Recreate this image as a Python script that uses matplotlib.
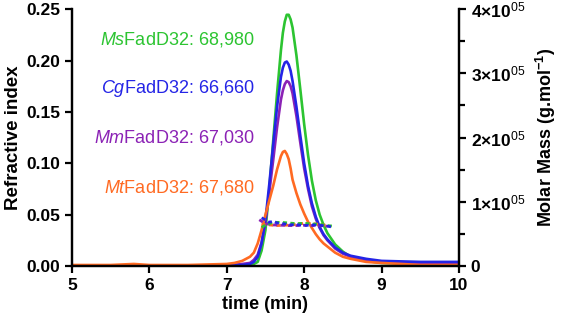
import matplotlib
matplotlib.use('Agg')
import matplotlib.pyplot as plt
from matplotlib.ticker import MultipleLocator, FixedLocator

plt.rcParams['font.family'] = ['Liberation Sans', 'DejaVu Sans']
plt.rcParams['mathtext.fontset'] = 'custom'
plt.rcParams['mathtext.rm'] = 'Liberation Sans'
plt.rcParams['mathtext.it'] = 'Liberation Sans:italic'
plt.rcParams['mathtext.bf'] = 'Liberation Sans:bold'

# refractive index traces (time in min)
time = [5.0, 5.5, 5.8, 6.0, 6.5, 7.0, 7.1, 7.2, 7.3, 7.35, 7.4, 7.45, 7.5, 7.55,
        7.6, 7.65, 7.7, 7.725, 7.75, 7.775, 7.8, 7.825, 7.85, 7.9, 7.95, 8.0,
        8.05, 8.1, 8.15, 8.2, 8.25, 8.3, 8.4, 8.5, 8.6, 8.8, 9.0, 9.5, 10.0]
ri_ms = [0.0, 0.0, 0.0, 0.0, 0.0, 0.001, 0.001, 0.001, 0.001, 0.002, 0.004, 0.015,
         0.035, 0.075, 0.122, 0.168, 0.210, 0.227, 0.238, 0.2445, 0.2445, 0.240,
         0.232, 0.205, 0.172, 0.138, 0.108, 0.083, 0.064, 0.050, 0.040, 0.032,
         0.021, 0.014, 0.009, 0.005, 0.003, 0.002, 0.001]
ri_cg = [0.0, 0.0, 0.0, 0.0, 0.0, 0.001, 0.001, 0.001, 0.002, 0.004, 0.009, 0.022,
         0.045, 0.080, 0.118, 0.155, 0.184, 0.193, 0.198, 0.199, 0.196, 0.190,
         0.180, 0.155, 0.127, 0.100, 0.078, 0.061, 0.048, 0.038, 0.031, 0.026,
         0.018, 0.013, 0.010, 0.007, 0.005, 0.004, 0.004]
ri_mm = [0.0, 0.0, 0.001, 0.0, 0.0, 0.001, 0.001, 0.002, 0.003, 0.006, 0.011, 0.023,
         0.043, 0.072, 0.103, 0.135, 0.162, 0.171, 0.177, 0.180, 0.179, 0.175,
         0.168, 0.146, 0.120, 0.095, 0.075, 0.058, 0.046, 0.037, 0.030, 0.025,
         0.017, 0.012, 0.009, 0.006, 0.004, 0.003, 0.003]
ri_mt = [0.001, 0.001, 0.002, 0.001, 0.001, 0.002, 0.003, 0.005, 0.009, 0.013, 0.022,
         0.035, 0.050, 0.064, 0.078, 0.094, 0.107, 0.111, 0.112, 0.109, 0.104,
         0.095, 0.084, 0.071, 0.060, 0.051, 0.043, 0.037, 0.031, 0.026, 0.022,
         0.019, 0.013, 0.009, 0.007, 0.004, 0.003, 0.001, 0.001]

# molar mass traces (right axis)
mm_time_cg = [7.45, 7.5, 7.55, 7.6, 7.65, 7.7, 7.75, 7.8, 7.9, 8.0, 8.1, 8.2, 8.3, 8.35]
mm_cg = [75000, 72000, 68000, 70000, 67000, 66000, 65500, 64000, 64500, 63000,
         64000, 63500, 62000, 61000]
mm_time_ms = [7.45, 7.5, 7.6, 7.7, 7.8, 7.9, 8.0, 8.1, 8.2, 8.3, 8.38]
mm_ms = [60000, 64000, 68000, 68000, 67000, 66000, 66500, 65500, 65000, 63000, 62000]
mm_time_mt = [7.45, 7.55, 7.65, 7.75, 7.85, 7.95, 8.05, 8.15, 8.25, 8.3]
mm_mt = [65000, 64000, 63000, 63500, 64000, 66000, 66500, 65500, 64000, 63000]
mm_time_mm = [7.42, 7.5, 7.6, 7.7, 7.8, 7.9, 8.0, 8.1, 8.2, 8.3]
mm_mm = [72000, 66000, 64000, 63500, 63000, 63000, 63500, 63000, 62500, 62000]

labels = [r'$\it{Ms}$FadD32: 68,980', r'$\it{Cg}$FadD32: 66,660',
          r'$\it{Mm}$FadD32: 67,030', r'$\it{Mt}$FadD32: 67,680']
label_y = [0.220, 0.173, 0.1255, 0.076]

c_ms = '#2cc431'
c_cg = '#2424e6'
c_mm = '#8b22b5'
c_mt = '#ff6a22'
colors = [c_ms, c_cg, c_mm, c_mt]

fig = plt.figure(figsize=(5.66, 3.26), dpi=100)
ax = fig.add_axes([0.127, 0.184, 0.684, 0.788])
ax2 = ax.twinx()

ax.plot(time, ri_ms, color=c_ms, lw=1.9)
ax.plot(time, ri_mm, color=c_mm, lw=1.9)
ax.plot(time, ri_cg, color=c_cg, lw=1.9)
ax.plot(time, ri_mt, color=c_mt, lw=1.9)

ax2.plot(mm_time_mt, mm_mt, color=c_mt, lw=2, ls=(0, (1.5, 1.2)))
ax2.plot(mm_time_mm, mm_mm, color=c_mm, lw=2, ls=(0, (1.5, 1.2)))
ax2.plot(mm_time_ms, mm_ms, color=c_ms, lw=2, ls=(0, (1.5, 1.2)))
ax2.plot(mm_time_cg, mm_cg, color=c_cg, lw=2, ls=(0, (1.5, 1.2)))

for txt, yy, cc in zip(labels, label_y, colors):
    ax.text(7.36, yy, txt, color=cc, fontsize=13, ha='right', va='center')

ax.set_xlim(5, 10)
ax.set_ylim(0, 0.25)
ax2.set_ylim(0, 4e5)
ax.xaxis.set_major_locator(MultipleLocator(1))
ax.yaxis.set_major_locator(MultipleLocator(0.05))
ax.set_yticklabels(['%.2f' % v for v in ax.get_yticks()])
ax2.yaxis.set_major_locator(FixedLocator([0, 1e5, 2e5, 3e5, 4e5]))
ax2.yaxis.set_minor_locator(FixedLocator([0.5e5, 1.5e5, 2.5e5, 3.5e5]))
ax2.set_yticklabels(['0', '1×10$^{05}$', '2×10$^{05}$', '3×10$^{05}$', '4×10$^{05}$'])

for a in (ax, ax2):
    a.spines['top'].set_visible(False)
    for s in ('left', 'right', 'bottom'):
        a.spines[s].set_linewidth(1.6)
    a.tick_params(width=1.6, length=5, labelsize=12.5)
    a.tick_params(which='minor', width=1.6, length=4)
    for lab in a.get_xticklabels() + a.get_yticklabels():
        lab.set_fontweight('bold')

ax.set_xlabel('time (min)', fontsize=13, fontweight='bold', labelpad=2)
ax.set_ylabel('Refractive index', fontsize=13.5, fontweight='bold', labelpad=3)
ax2.set_ylabel(r'Molar Mass (g.mol$^{\mathbf{-1}}$)', fontsize=13, fontweight='bold',
               labelpad=6)

fig.savefig('out.png', dpi=100)
